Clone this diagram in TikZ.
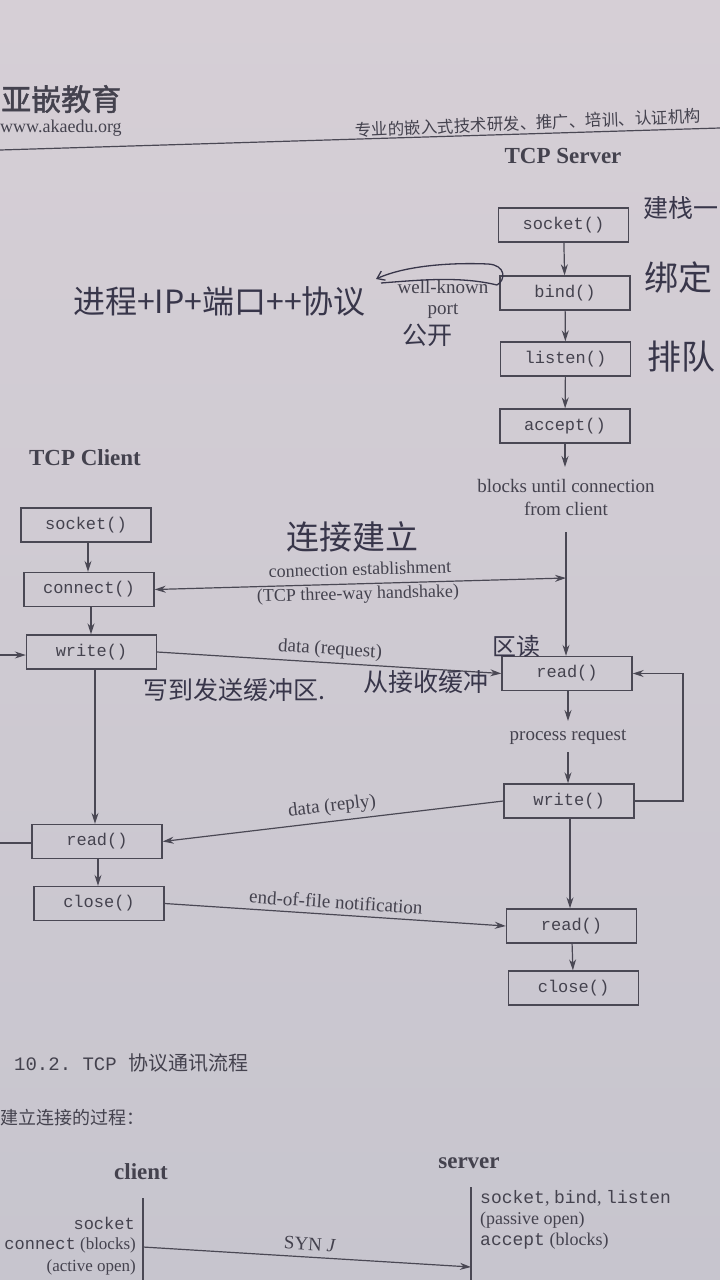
\documentclass[tikz,border=0pt]{standalone}
\usepackage{fontspec}
\setmainfont{Liberation Serif}
\setmonofont{Liberation Mono}
\newfontfamily\cjk{Noto Sans CJK SC}
\newfontfamily\cjkb[FakeBold=1.5]{Noto Sans CJK SC}
\usetikzlibrary{arrows.meta}
\definecolor{papertop}{RGB}{214,207,214}
\definecolor{paperbot}{RGB}{199,197,206}
\definecolor{txtc}{RGB}{68,66,78}
\definecolor{linec}{RGB}{74,72,84}
\definecolor{ink}{RGB}{56,54,74}
\begin{document}
\begin{tikzpicture}[x=1pt,y=-1pt,
  fnbox/.style={draw=linec, line width=1.4pt, minimum width=130pt, minimum height=34pt, inner sep=0pt, font=\ttfamily\fontsize{17}{19}\selectfont, text=txtc},
  flow/.style={draw=linec, line width=1.2pt, -{Stealth[length=11pt,width=7pt]}},
  plain/.style={draw=linec, line width=1.2pt},
  lab/.style={font=\fontsize{19}{21}\selectfont, text=txtc, inner sep=0pt},
  slab/.style={font=\fontsize{17}{19}\selectfont, text=txtc, inner sep=0pt},
  ttl/.style={font=\bfseries\fontsize{23}{25}\selectfont, text=txtc, inner sep=0pt},
  hw/.style={font=\cjk\fontsize{32}{34}\selectfont, text=ink, inner sep=0pt},
  hand/.style={draw=ink, line width=1.3pt}
]
\useasboundingbox (0,0) rectangle (720,1280);
\fill[top color=papertop, bottom color=paperbot] (0,0) rectangle (720,1280);

% header
\node[anchor=west, font=\cjkb\fontsize{30}{32}\selectfont, text=txtc, inner sep=0pt] (logo) at (1,99) {亚嵌教育};
\node[anchor=west, slab, font=\fontsize{18}{20}\selectfont] (url) at (0,128) {www.akaedu.org};
\node[font=\cjk\fontsize{16.5}{18}\selectfont, text=txtc, inner sep=0pt, rotate=2.4] (slogan) at (528,123) {专业的嵌入式技术研发、推广、培训、认证机构};
\coordinate (hl) at (0,150);
\coordinate (hr) at (720,128);
\draw[plain] (hl) -- (hr);

% server
\node[ttl] (tsrv) at (563,156) {TCP Server};
\node[fnbox] (ssock) at (563.5,225) {socket()};
\node[fnbox] (sbind) at (565,293) {bind()};
\node[fnbox] (slist) at (565.5,359) {listen()};
\node[fnbox] (sacc) at (565,426) {accept()};
\node[lab] (blk1) at (566,486) {blocks until connection};
\node[lab] (blk2) at (566,509) {from client};
\node[fnbox] (sread) at (567,673.5) {read()};
\node[lab] (proc) at (568,737) {process request};
\node[fnbox] (swrite) at (569,801) {write()};
\node[fnbox] (sread2) at (571.5,926) {read()};
\node[fnbox] (sclose) at (573.5,988) {close()};

\draw[flow] (ssock) -- (sbind);
\draw[flow] (sbind) -- (slist);
\draw[flow] (slist) -- (sacc);
\coordinate (sa1) at (565,467);
\draw[flow] (sacc) -- (sa1);
\coordinate (sb1) at (566,532);
\draw[flow] (sb1) -- (sread.north -| sb1);
\coordinate (sp1) at (568,721);
\draw[flow] (sread.south -| sp1) -- (sp1);
\coordinate (sp2) at (568,752);
\draw[flow] (sp2) -- (swrite.north -| sp2);
\coordinate (lp1) at (683,801);
\coordinate (lp2) at (683,673.5);
\draw[flow] (swrite.east) -- (lp1) -- (lp2) -- (sread.east);
\draw[flow] (swrite.south -| 570,0) -- (sread2.north -| 570,0);
\draw[flow] (sread2) -- (sclose);

% client
\node[ttl] (tcli) at (85,458) {TCP Client};
\node[fnbox] (csock) at (86,525) {socket()};
\node[fnbox] (cconn) at (89,589.5) {connect()};
\node[fnbox] (cwrite) at (91.5,652) {write()};
\node[fnbox] (cread) at (97,841.5) {read()};
\node[fnbox] (cclose) at (99,903.5) {close()};
\draw[flow] (csock.south -| 88,0) -- (cconn.north -| 88,0);
\draw[flow] (cconn.south -| 91,0) -- (cwrite.north -| 91,0);
\draw[flow] (cwrite.south -| 95,0) -- (cread.north -| 95,0);
\draw[flow] (cread.south -| 98,0) -- (cclose.north -| 98,0);
\coordinate (cl1) at (0,655);
\draw[flow] (cl1) -- (cwrite.west |- cl1);
\coordinate (cl2) at (0,843);
\draw[plain] (cread.west |- cl2) -- (cl2);

% messages
\coordinate (ce) at (566,578);
\draw[flow, {Stealth[length=11pt,width=7pt]}-{Stealth[length=11pt,width=7pt]}] (cconn.east) -- (ce);
\node[lab, font=\fontsize{18}{20}\selectfont, rotate=1.5] (ce1) at (360,569) {connection establishment};
\node[lab, font=\fontsize{18}{20}\selectfont, rotate=1.5] (ce2) at (358,595) {(TCP three-way handshake)};
\draw[flow] (cwrite.east) -- (sread.west);
\node[lab, rotate=-3.6] (dreq) at (330,650) {data (request)};
\draw[flow] (swrite.west) -- (cread.east);
\node[lab, rotate=6.8] (drep) at (332,807) {data (reply)};
\draw[flow] (cclose.east) -- (sread2.west);
\node[lab, rotate=-3.8] (eof) at (336,902) {end-of-file notification};

% well-known port
\node[lab] (wk1) at (443,287) {well-known};
\node[lab] (wk2) at (443,311) {port};

% handwriting
\node[hw, anchor=west] (h1) at (73,301) {进程+IP+端口++协议};
\coordinate (ha) at (376,279);
\coordinate (hb) at (497,285);
\draw[hand, {Straight Barb[length=7pt,width=10pt]}-] (ha) .. controls (400,268) and (440,262) .. (488,264) .. controls (506,265) and (506,280) .. (hb);
\draw[hand] (381,283) .. controls (420,280) and (460,276) .. (hb);
\node[hw, font=\cjk\fontsize{25}{27}\selectfont] (h2) at (427,335) {公开};
\node[hw, anchor=east, font=\cjk\fontsize{25}{27}\selectfont] (h3) at (719,208) {建栈一};
\node[hw, anchor=west, font=\cjk\fontsize{34}{36}\selectfont] (h4) at (644,278) {绑定};
\node[hw, anchor=west, font=\cjk\fontsize{34}{36}\selectfont] (h5) at (647,357) {排队};
\node[hw, font=\cjk\fontsize{33}{35}\selectfont] (h6) at (352,537) {连接建立};
\node[hw, anchor=west, font=\cjk\fontsize{25}{27}\selectfont] (h7) at (143,690) {写到发送缓冲区.};
\node[hw, anchor=west, font=\cjk\fontsize{25}{27}\selectfont] (h8) at (363,682) {从接收缓冲};
\node[hw, font=\cjk\fontsize{24}{26}\selectfont] (h9) at (516,646) {区读};

% section 10.2
\node[anchor=west, font=\ttfamily\fontsize{19}{21}\selectfont, text=txtc, inner sep=0pt] (sec) at (14,1063) {10.2.~TCP~{\cjk\fontsize{20}{22}\selectfont 协议通讯流程}};
\node[anchor=west, font=\cjk\fontsize{18}{20}\selectfont, text=txtc, inner sep=0pt] (sub) at (0,1118) {建立连接的过程：};
\node[ttl] (tc) at (141,1172) {client};
\node[ttl] (ts) at (469,1163) {server};
\coordinate (ct) at (143,1198);
\coordinate (cb) at (143,1280);
\coordinate (st) at (471,1187);
\coordinate (sbb) at (471,1280);
\draw[plain] (ct) -- (cb);
\draw[plain] (st) -- (sbb);
\node[slab, anchor=east] (c1) at (135,1223) {\ttfamily socket};
\node[slab, anchor=east] (c2) at (136,1245) {{\ttfamily connect} (blocks)};
\node[slab, anchor=east] (c3) at (136,1267) {(active open)};
\node[slab, anchor=west, font=\fontsize{18}{20}\selectfont] (s1) at (480,1198) {{\ttfamily socket}, {\ttfamily bind}, {\ttfamily listen}};
\node[slab, anchor=west, font=\fontsize{18}{20}\selectfont] (s2) at (480,1220) {(passive open)};
\node[slab, anchor=west, font=\fontsize{18}{20}\selectfont] (s3) at (480,1241) {{\ttfamily accept} (blocks)};
\coordinate (syn1) at (143,1247);
\coordinate (syn2) at (471,1267);
\draw[flow] (syn1) -- (syn2);
\node[lab, rotate=-3.4] (synl) at (310,1244) {SYN \textit{J}};
\end{tikzpicture}
\end{document}
